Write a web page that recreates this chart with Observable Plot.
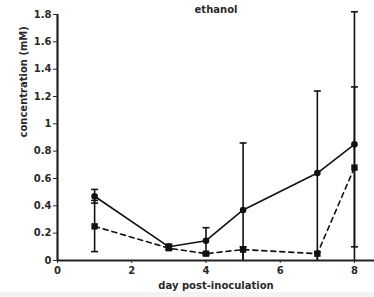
<!DOCTYPE html>
<html><head><meta charset="utf-8">
<script src="https://cdn.jsdelivr.net/npm/d3@7"></script>
<script src="https://cdn.jsdelivr.net/npm/@observablehq/plot@0.6"></script>
<style>
body{margin:0;background:#fff;}
#c{position:relative;width:374px;height:297px;overflow:hidden;}
#band{position:absolute;left:0;top:292px;width:374px;height:5px;background:#f3f3f3;}
</style>
</head><body><div id="c"></div>
<script>
const days = [1, 3, 4, 5, 7, 8];
const solidMean = [0.47, 0.10, 0.145, 0.37, 0.64, 0.85];
const solidLow  = [0.42, 0.08, 0.05, 0.0, 0.0, 0.0];
const solidHigh = [0.52, 0.12, 0.24, 0.86, 1.24, 1.82];
const dashMean = [0.25, 0.09, 0.05, 0.08, 0.05, 0.68];
const dashLow  = [0.065, 0.08, 0.04, 0.0, 0.0, 0.10];
const dashHigh = [0.44, 0.11, 0.06, 0.10, 0.06, 1.27];
const xTicks = [0, 2, 4, 6, 8];
const yTicks = [0, 0.2, 0.4, 0.6, 0.8, 1, 1.2, 1.4, 1.6, 1.8];

const solid = days.map((d, i) => ({day: d, v: solidMean[i], lo: solidLow[i], hi: solidHigh[i]}));
const dash = days.map((d, i) => ({day: d, v: dashMean[i], lo: dashLow[i], hi: dashHigh[i]}));
const bars = solid.concat(dash);
const caps = bars.map(b => ({day: b.day, y: b.hi})).concat(bars.filter(b => b.lo > 0).map(b => ({day: b.day, y: b.lo})));

const capSymbol = {draw(ctx, size) { const w = 3.5; ctx.moveTo(-w, 0); ctx.lineTo(w, 0); }};

const font = "'DejaVu Sans', Verdana, sans-serif";
const chart = Plot.plot({
  width: 374,
  height: 297,
  marginLeft: 57,
  marginRight: 0,
  marginTop: 14,
  marginBottom: 37,
  style: {fontFamily: font, fontSize: "10px", fontWeight: "bold", color: "#2a2a2a", background: "transparent"},
  x: {type: "linear", domain: [0, 8.54], ticks: xTicks, tickSize: 3, tickPadding: 3, label: null, tickFormat: d => String(d)},
  y: {type: "linear", domain: [0, 1.8], ticks: yTicks, tickSize: 4, tickPadding: 2, label: null, tickFormat: d => String(d)},
  marks: [
    Plot.ruleX(bars, {x: "day", y1: "lo", y2: "hi", stroke: "#111", strokeWidth: 1.6}),
    Plot.dot(caps, {x: "day", y: "y", symbol: capSymbol, stroke: "#111", strokeWidth: 1.6, fill: "none"}),
    Plot.line(dash, {x: "day", y: "v", stroke: "#111", strokeWidth: 1.6, strokeDasharray: "5,4"}),
    Plot.line(solid, {x: "day", y: "v", stroke: "#111", strokeWidth: 1.6}),
    Plot.dot(dash, {x: "day", y: "v", symbol: "square", r: 3.6, fill: "#111", stroke: "none"}),
    Plot.dot(solid, {x: "day", y: "v", r: 3.3, fill: "#111", stroke: "none"}),
    Plot.ruleX([0], {stroke: "#222", strokeWidth: 2.2}),
    Plot.ruleY([0], {stroke: "#222", strokeWidth: 2.2}),
    Plot.text(["ethanol"], {frameAnchor: "top", dy: -9, fontSize: 10, fontWeight: "bold", fill: "#2a2a2a"}),
    Plot.text(["day post-inoculation"], {frameAnchor: "bottom", dy: 28, fontSize: 10, fontWeight: "bold", fill: "#2a2a2a"}),
    Plot.text(["concentration (mM)"], {frameAnchor: "left", dx: -34, rotate: -90, fontSize: 10, fontWeight: "bold", fill: "#2a2a2a"})
  ]
});
document.getElementById("c").appendChild(chart);
const band = document.createElement("div"); band.id = "band";
document.getElementById("c").appendChild(band);
</script>
</body></html>
